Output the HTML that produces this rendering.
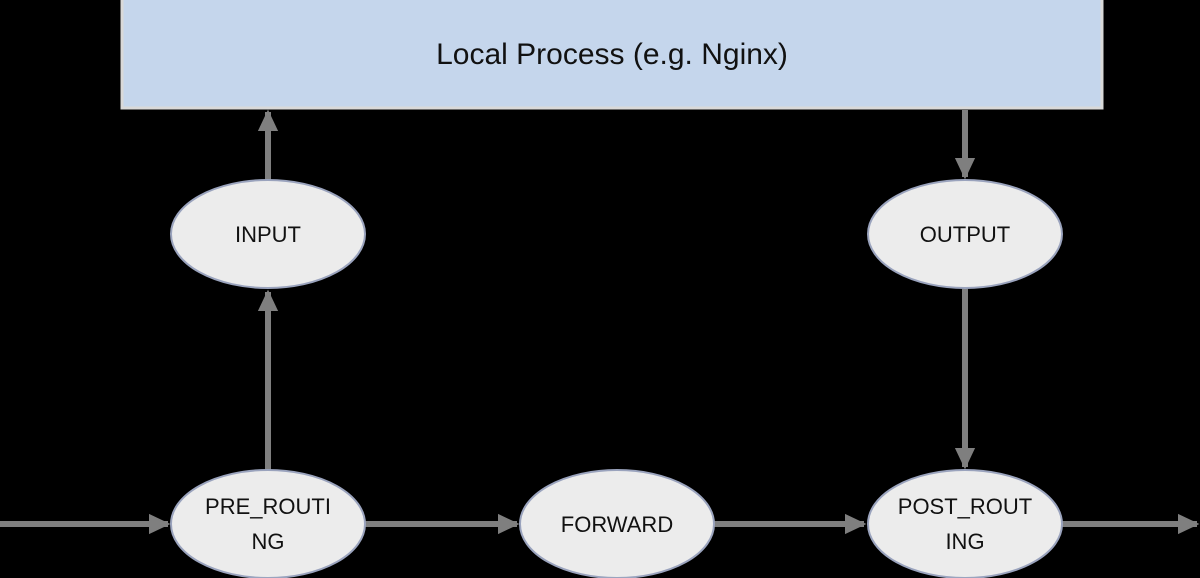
<!DOCTYPE html>
<html><head><meta charset="utf-8"><style>
html,body{margin:0;padding:0;background:#000;}
svg{display:block;}
text{font-family:"Liberation Sans",sans-serif;fill:#111;}
</style></head><body>
<svg width="1200" height="578" viewBox="0 0 1200 578" xmlns="http://www.w3.org/2000/svg">
<defs>
<marker id="a" markerWidth="4" markerHeight="4" refX="3.2" refY="2" orient="auto" markerUnits="strokeWidth">
<path d="M0,0.3 L3.6,2 L0,3.7 z" fill="#7f7f7f"/>
</marker>
</defs>
<rect x="122" y="-2" width="980" height="110" fill="#c5d6ec" stroke="#d9d9d9" stroke-width="3"/>
<text x="612" y="64" font-size="30" text-anchor="middle">Local Process (e.g. Nginx)</text>
<g stroke="#7f7f7f" stroke-width="6" fill="none">
<line x1="0" y1="524" x2="168" y2="524" marker-end="url(#a)"/>
<line x1="365" y1="524" x2="517" y2="524" marker-end="url(#a)"/>
<line x1="714" y1="524" x2="864" y2="524" marker-end="url(#a)"/>
<line x1="1061" y1="524" x2="1197" y2="524" marker-end="url(#a)"/>
<line x1="268" y1="470" x2="268" y2="292" marker-end="url(#a)"/>
<line x1="268" y1="180" x2="268" y2="112" marker-end="url(#a)"/>
<line x1="965" y1="110" x2="965" y2="177" marker-end="url(#a)"/>
<line x1="965" y1="289" x2="965" y2="467" marker-end="url(#a)"/>
</g>
<g fill="#ececec" stroke="#9aa3bd" stroke-width="2">
<ellipse cx="268" cy="234" rx="97" ry="54"/>
<ellipse cx="965" cy="234" rx="97" ry="54"/>
<ellipse cx="268" cy="524" rx="97" ry="54"/>
<ellipse cx="617" cy="524" rx="97" ry="54"/>
<ellipse cx="965" cy="524" rx="97" ry="54"/>
</g>
<g font-size="22" text-anchor="middle">
<text x="268" y="242">INPUT</text>
<text x="965" y="242">OUTPUT</text>
<text x="268" y="514">PRE_ROUTI</text>
<text x="268" y="549">NG</text>
<text x="617" y="532">FORWARD</text>
<text x="965" y="514">POST_ROUT</text>
<text x="965" y="549">ING</text>
</g>
</svg>
</body></html>
